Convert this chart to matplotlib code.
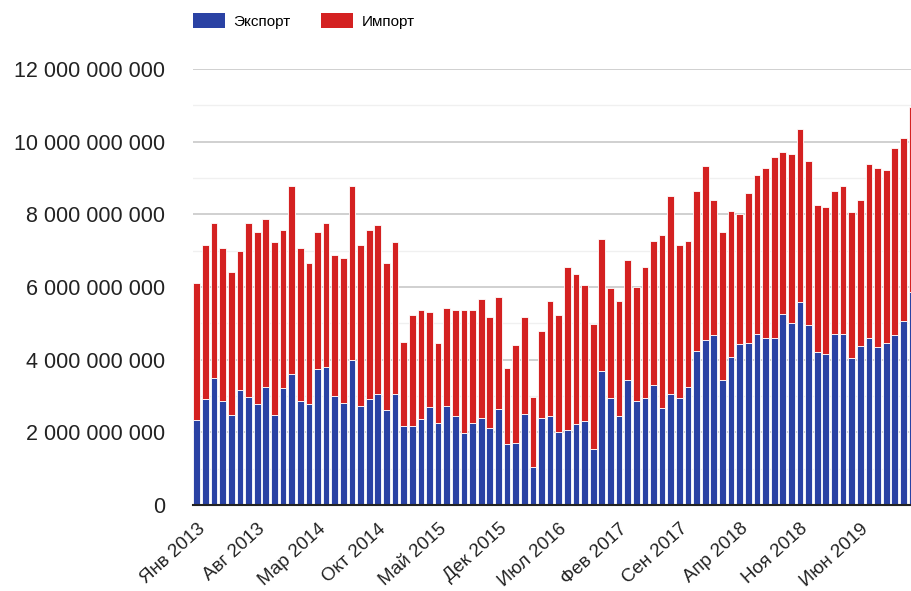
import numpy as np
import matplotlib
matplotlib.use("Agg")
import matplotlib.pyplot as plt
from matplotlib.patches import Patch
from matplotlib.ticker import FuncFormatter, MultipleLocator

plt.rcParams['font.family'] = ['Liberation Sans', 'DejaVu Sans']

# monthly values, billions, Jan 2013 - Dec 2019
export = [2.34, 2.91, 3.49, 2.86, 2.48, 3.17, 2.96, 2.77, 3.26, 2.48, 3.21, 3.60,
          2.86, 2.77, 3.74, 3.79, 3.01, 2.82, 3.98, 2.72, 2.91, 3.06, 2.61, 3.06,
          2.18, 2.18, 2.38, 2.69, 2.27, 2.72, 2.46, 1.97, 2.27, 2.40, 2.11, 2.64,
          1.67, 1.72, 2.50, 1.04, 2.40, 2.46, 2.02, 2.06, 2.22, 2.31, 1.53, 3.69,
          2.95, 2.46, 3.44, 2.86, 2.95, 3.30, 2.66, 3.06, 2.94, 3.26, 4.24, 4.54,
          4.68, 3.44, 4.08, 4.43, 4.47, 4.71, 4.61, 4.61, 5.25, 5.00, 5.58, 4.95,
          4.22, 4.17, 4.71, 4.71, 4.06, 4.38, 4.61, 4.36, 4.47, 4.68, 5.06, 5.87]
imports = [3.76, 4.26, 4.27, 4.22, 3.92, 3.82, 4.80, 4.75, 4.60, 4.75, 4.36, 5.19,
           4.22, 3.88, 3.78, 3.97, 3.88, 3.97, 4.81, 4.45, 4.66, 4.66, 4.04, 4.17,
           2.32, 3.05, 3.00, 2.63, 2.18, 2.70, 2.92, 3.41, 3.11, 3.27, 3.07, 3.08,
           2.09, 2.68, 2.68, 1.94, 2.39, 3.16, 3.21, 4.48, 4.13, 3.75, 3.45, 3.64,
           3.01, 3.16, 3.30, 3.15, 3.59, 3.98, 4.76, 5.44, 4.23, 4.02, 4.40, 4.78,
           3.72, 4.08, 4.02, 3.58, 4.13, 4.37, 4.67, 4.96, 4.47, 4.67, 4.77, 4.53,
           4.04, 4.03, 3.93, 4.08, 4.00, 4.02, 4.77, 4.92, 4.76, 5.14, 5.05, 5.09]
months = ["Янв", "Фев", "Мар", "Апр", "Май", "Июн",
          "Июл", "Авг", "Сен", "Окт", "Ноя", "Дек"]
years = list(range(2013, 2020))
labels = [f"{m} {y}" for y in years for m in months]

exp_v = np.array(export) * 1e9
imp_v = np.array(imports) * 1e9
x = np.arange(len(labels))

fig = plt.figure(figsize=(9.12, 5.91), dpi=100)
ax = fig.add_axes([0.2116, 0.1455, 0.7884, 0.7377])

blue = "#2a42a4"
red = "#d42121"
ax.bar(x, exp_v, width=0.78, color=blue, edgecolor="white", linewidth=0.6, zorder=3)
ax.bar(x, imp_v, bottom=exp_v, width=0.78, color=red, edgecolor="white",
       linewidth=0.6, zorder=3)

ax.set_ylim(0, 12e9)
ax.set_xlim(-0.45, 83.0)
ax.yaxis.set_major_locator(MultipleLocator(2e9))
ax.yaxis.set_minor_locator(MultipleLocator(1e9))
ax.yaxis.set_major_formatter(FuncFormatter(lambda v, p: f"{v:,.0f}".replace(",", " ")))
ax.grid(axis="y", which="major", color="#c8c8c8", linewidth=1.2, zorder=0)
ax.grid(axis="y", which="minor", color="#f0f0f0", linewidth=1.0, zorder=0)
ax.set_axisbelow(True)

for s in ["top", "right", "left"]:
    ax.spines[s].set_visible(False)
ax.spines["bottom"].set_color("#222222")
ax.spines["bottom"].set_linewidth(1.5)
ax.spines["bottom"].set_zorder(4)

tick_idx = x[::7]
ax.set_xticks(tick_idx)
ax.set_xticklabels([labels[i] for i in tick_idx], rotation=42, ha="right",
                   rotation_mode="anchor", fontsize=13.5, color="#222222")
ax.tick_params(axis="x", length=0, pad=11)
ax.tick_params(axis="y", which="both", length=0, pad=20, labelsize=15.5,
               labelcolor="#222222")

handles = [Patch(facecolor=blue, label="Экспорт"), Patch(facecolor=red, label="Импорт")]
fig.legend(handles=handles, loc="upper left", bbox_to_anchor=(0.2116, 0.978),
           ncol=2, frameon=False, fontsize=11, handlelength=2.1, handleheight=1.1,
           handletextpad=0.55, columnspacing=2.0, borderpad=0, borderaxespad=0)

fig.savefig("out.png", dpi=100)
